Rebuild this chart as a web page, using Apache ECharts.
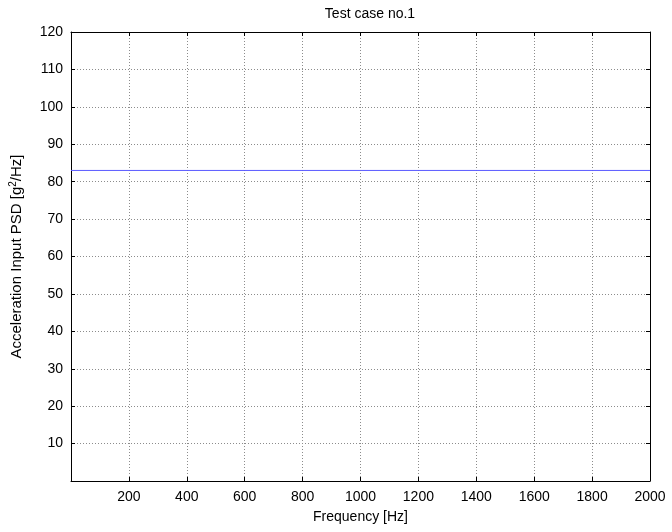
<!DOCTYPE html>
<html>
<head>
<meta charset="utf-8">
<script src="https://cdn.jsdelivr.net/npm/echarts@6/dist/echarts.min.js"></script>
<style>
  html, body { margin: 0; padding: 0; background: #fff; }
  #main { width: 672px; height: 532px; }
</style>
</head>
<body>
<div id="main"></div>
<script>
// test case data
var frequency = [0, 2000];
var psd = [83, 83];
var xTicks = [200, 400, 600, 800, 1000, 1200, 1400, 1600, 1800, 2000];
var yTicks = [10, 20, 30, 40, 50, 60, 70, 80, 90, 100, 110, 120];

var font = 'Liberation Sans, Arial, sans-serif';
var chart = echarts.init(document.getElementById('main'));

var gridLine = { show: true, lineStyle: { color: '#8c8c8c', type: [1, 2], width: 1 } };

var option = {
  animation: false,
  title: {
    text: 'Test case no.1',
    left: 365, top: 2, textAlign: 'center',
    textStyle: { fontFamily: font, fontSize: 14, fontWeight: 'normal', color: '#000' }
  },
  grid: { left: 71, right: 22, top: 32, bottom: 51 },
  xAxis: [{
    type: 'value', min: 0, max: 2000, interval: 200,
    name: 'Frequency [Hz]', nameLocation: 'middle', nameGap: 29,
    nameTextStyle: { fontFamily: font, fontSize: 14, color: '#000' },
    axisLine: { onZero: false, lineStyle: { color: '#000', width: 1 } },
    axisTick: { show: true, inside: true, length: 4, lineStyle: { color: '#000' } },
    axisLabel: {
      inside: false, fontFamily: font, fontSize: 14, color: '#000', margin: 9,
      formatter: function (v) { return xTicks.indexOf(v) >= 0 ? String(v) : ''; }
    },
    splitLine: gridLine
  }, {
    type: 'value', min: 0, max: 2000, interval: 200, position: 'top',
    axisLine: { show: true, onZero: false, lineStyle: { color: '#000', width: 1 } },
    axisTick: { show: true, inside: true, length: 4, lineStyle: { color: '#000' } },
    axisLabel: { show: false }, splitLine: { show: false }
  }],
  yAxis: [{
    type: 'value', min: 0, max: 120, interval: 10,
    name: '{a|Acceleration Input PSD [g}{s|2}{a|/Hz]}',
    nameLocation: 'middle', nameGap: 46,
    nameTextStyle: {
      rich: {
        a: { fontFamily: font, fontSize: 15, color: '#000' },
        s: { fontFamily: font, fontSize: 10, color: '#000', verticalAlign: 'top', padding: [0, 0, 7, 0] }
      }
    },
    axisLine: { onZero: false, lineStyle: { color: '#000', width: 1 } },
    axisTick: { show: true, inside: true, length: 4, lineStyle: { color: '#000' } },
    axisLabel: {
      inside: false, fontFamily: font, fontSize: 14, color: '#000', margin: 8,
      formatter: function (v) { return yTicks.indexOf(v) >= 0 ? String(v) : ''; }
    },
    splitLine: gridLine
  }, {
    type: 'value', min: 0, max: 120, interval: 10, position: 'right',
    axisLine: { show: true, onZero: false, lineStyle: { color: '#000', width: 1 } },
    axisTick: { show: true, inside: true, length: 4, lineStyle: { color: '#000' } },
    axisLabel: { show: false }, splitLine: { show: false }
  }],
  series: [{
    type: 'line',
    data: frequency.map(function (f, i) { return [f, psd[i]]; }),
    showSymbol: false,
    lineStyle: { color: '#5a5aff', width: 1 }
  }]
};

chart.setOption(option);
</script>
</body>
</html>
